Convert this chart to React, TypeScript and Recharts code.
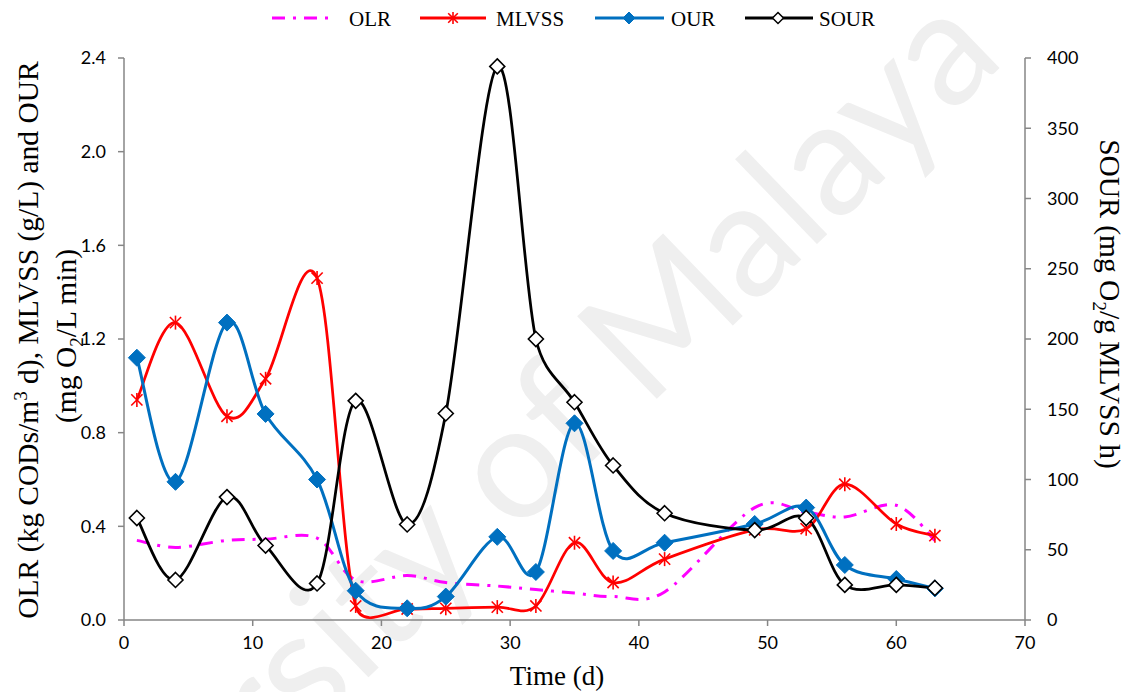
import React from "react";
import { LineChart, Line, XAxis, YAxis } from "recharts";

// sampling days and the four measured series
const days = [1, 4, 8, 11, 15, 18, 22, 25, 29, 32, 35, 38, 42, 49, 53, 56, 60, 63];
const olr = [0.34, 0.31, 0.34, 0.345, 0.35, 0.17, 0.19, 0.16, 0.145, 0.13, 0.115, 0.1, 0.12, 0.48, 0.46, 0.44, 0.49, 0.34];
const mlvss = [0.94, 1.27, 0.87, 1.03, 1.46, 0.06, 0.047, 0.05, 0.055, 0.06, 0.33, 0.16, 0.26, 0.385, 0.39, 0.58, 0.41, 0.36];
const our = [1.12, 0.59, 1.27, 0.88, 0.6, 0.125, 0.05, 0.1, 0.355, 0.205, 0.84, 0.295, 0.33, 0.41, 0.48, 0.235, 0.175, 0.135];
const sour = [72.6, 28.5, 87.5, 53, 26, 156, 68, 147, 394, 200, 155, 110, 76, 64, 72.6, 25, 25, 22.8];

const xTicks = [0, 10, 20, 30, 40, 50, 60, 70];
const leftTicks = [0, 0.4, 0.8, 1.2, 1.6, 2.0, 2.4];
const rightTicks = [0, 50, 100, 150, 200, 250, 300, 350, 400];

const data = days.map((d, i) => ({ day: d, olr: olr[i], mlvss: mlvss[i], our: our[i], sour: sour[i] }));

const AXIS = "#868686";
const SERIF = "'Liberation Serif', 'Times New Roman', serif";
const SANS = "Lato, 'Liberation Sans', sans-serif";

// Catmull-Rom style smoothing; handle length is capped by the adjacent chord
// so a steep drop doesn't throw a big loop into the next flat segment
const smooth = (context: any) => {
  let pts: number[][] = [];
  const handle = (a: number[], b: number[], chord: number) => {
    let hx = (b[0] - a[0]) / 6;
    let hy = (b[1] - a[1]) / 6;
    const len = Math.hypot(hx, hy);
    const cap = chord * 0.5;
    if (len > cap && len > 0) {
      hx *= cap / len;
      hy *= cap / len;
    }
    return [hx, hy];
  };
  return {
    areaStart() {},
    areaEnd() {},
    lineStart() {
      pts = [];
    },
    point(x: number, y: number) {
      pts.push([+x, +y]);
    },
    lineEnd() {
      const n = pts.length;
      if (!n) return;
      context.moveTo(pts[0][0], pts[0][1]);
      for (let i = 0; i < n - 1; i++) {
        const p0 = pts[Math.max(i - 1, 0)];
        const p1 = pts[i];
        const p2 = pts[i + 1];
        const p3 = pts[Math.min(i + 2, n - 1)];
        const chord = Math.hypot(p2[0] - p1[0], p2[1] - p1[1]);
        const h1 = handle(p0, p2, chord);
        const h2 = handle(p1, p3, chord);
        context.bezierCurveTo(p1[0] + h1[0], p1[1] + h1[1], p2[0] - h2[0], p2[1] - h2[1], p2[0], p2[1]);
      }
    },
  };
};

const Asterisk = ({ cx, cy, r = 7 }: { cx: number; cy: number; r?: number }) => {
  const d = r * 0.8;
  return (
    <g stroke="#FF0000" strokeWidth={1.6}>
      <line x1={cx} y1={cy - r} x2={cx} y2={cy + r} />
      <line x1={cx - d} y1={cy - d} x2={cx + d} y2={cy + d} />
      <line x1={cx - d} y1={cy + d} x2={cx + d} y2={cy - d} />
    </g>
  );
};

const Diamond = ({ cx, cy, r, fill, stroke, sw }: { cx: number; cy: number; r: number; fill: string; stroke: string; sw: number }) => (
  <path d={`M${cx},${cy - r}L${cx + r},${cy}L${cx},${cy + r}L${cx - r},${cy}Z`} fill={fill} stroke={stroke} strokeWidth={sw} />
);

const mlvssDot = (p: any) => <Asterisk key={`m${p.index}`} cx={p.cx} cy={p.cy} />;
const ourDot = (p: any) => <Diamond key={`o${p.index}`} cx={p.cx} cy={p.cy} r={8.5} fill="#0070C0" stroke="#0070C0" sw={1} />;
const sourDot = (p: any) => <Diamond key={`s${p.index}`} cx={p.cx} cy={p.cy} r={7.5} fill="#FFFFFF" stroke="#000000" sw={1.6} />;

const tickStyle = { fill: "#000", fontSize: 18, fontFamily: SANS };

const Legend = () => (
  <g fontFamily={SERIF} fontSize={21} fill="#000">
    <line x1={272} y1={18} x2={336} y2={18} stroke="#FF00FF" strokeWidth={3} strokeDasharray="13 8 3 8" />
    <text x={349} y={26}>OLR</text>
    <line x1={420} y1={18} x2={486} y2={18} stroke="#FF0000" strokeWidth={3} />
    <Asterisk cx={453} cy={18} r={6} />
    <text x={496} y={26}>MLVSS</text>
    <line x1={595} y1={18} x2={664} y2={18} stroke="#0070C0" strokeWidth={3} />
    <Diamond cx={629} cy={18} r={6} fill="#0070C0" stroke="#0070C0" sw={1} />
    <text x={671} y={26}>OUR</text>
    <line x1={745} y1={18} x2={813} y2={18} stroke="#000" strokeWidth={3} />
    <Diamond cx={778} cy={18} r={5.5} fill="#FFFFFF" stroke="#000" sw={1.5} />
    <text x={819} y={26}>SOUR</text>
  </g>
);

const Titles = () => (
  <g fontFamily={SERIF} fill="#000">
    <text transform="translate(38,340) rotate(-90)" textAnchor="middle" fontSize={29.5}>
      OLR (kg CODs/m<tspan dy={-11} fontSize={19}>3</tspan>
      <tspan dy={11}> d), MLVSS (g/L) and OUR</tspan>
    </text>
    <text transform="translate(76,336) rotate(-90)" textAnchor="middle" fontSize={29.5}>
      (mg O<tspan dy={7} fontSize={19}>2</tspan>
      <tspan dy={-7}>/L min)</tspan>
    </text>
    <text transform="translate(1100,304) rotate(90)" textAnchor="middle" fontSize={29.5}>
      SOUR (mg O<tspan dy={7} fontSize={19}>2</tspan>
      <tspan dy={-7}>/g MLVSS h)</tspan>
    </text>
    <text x={557} y={685} textAnchor="middle" fontSize={27}>
      Time (d)
    </text>
  </g>
);

export default function App() {
  return (
    <div style={{ position: "absolute", left: 0, top: 0, width: 1134, height: 692, background: "#fff", overflow: "hidden" }}>
      <svg width={1134} height={692} style={{ position: "absolute", left: 0, top: 0 }}>
        <text
          transform="translate(491,559) rotate(-44)"
          textAnchor="middle"
          fontFamily={SANS}
          fontSize={160}
          fill="#EFEFEF"
        >
          University of Malaya
        </text>
      </svg>
      <div style={{ position: "absolute", left: 0, top: 0 }}>
        <LineChart width={1134} height={692} data={data} margin={{ top: 58, right: 0, bottom: 0, left: 0 }}>
          <XAxis
            dataKey="day"
            type="number"
            domain={[0, 70]}
            ticks={xTicks}
            interval={0}
            height={72}
            stroke={AXIS}
            strokeWidth={1.5}
            tickSize={6}
            tickMargin={10}
            tick={tickStyle}
          />
          <YAxis
            yAxisId="left"
            domain={[0, 2.4]}
            ticks={leftTicks}
            interval={0}
            width={124}
            stroke={AXIS}
            strokeWidth={1.5}
            tickSize={6}
            tickMargin={12}
            tick={tickStyle}
            tickFormatter={(v: number) => v.toFixed(1)}
          />
          <YAxis
            yAxisId="right"
            orientation="right"
            domain={[0, 400]}
            ticks={rightTicks}
            interval={0}
            width={109}
            stroke={AXIS}
            strokeWidth={1.5}
            tickSize={6}
            tickMargin={16}
            tick={tickStyle}
          />
          <Line yAxisId="left" dataKey="olr" type={smooth as any} stroke="#FF00FF" strokeWidth={3} strokeDasharray="13 8 3 8" dot={false} isAnimationActive={false} />
          <Line yAxisId="left" dataKey="mlvss" type={smooth as any} stroke="#FF0000" strokeWidth={2.75} dot={mlvssDot} isAnimationActive={false} />
          <Line yAxisId="left" dataKey="our" type={smooth as any} stroke="#0070C0" strokeWidth={3} dot={ourDot} isAnimationActive={false} />
          <Line yAxisId="right" dataKey="sour" type={smooth as any} stroke="#000000" strokeWidth={2.75} dot={sourDot} isAnimationActive={false} />
        </LineChart>
      </div>
      <svg width={1134} height={692} style={{ position: "absolute", left: 0, top: 0, pointerEvents: "none" }}>
        <Legend />
        <Titles />
      </svg>
    </div>
  );
}
